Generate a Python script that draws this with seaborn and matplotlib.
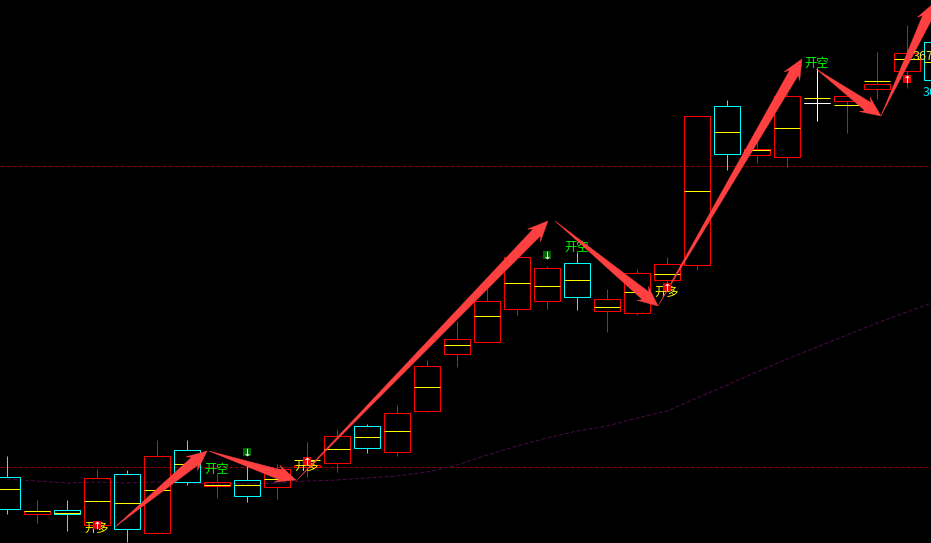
import numpy as np
import pandas as pd
import matplotlib
matplotlib.use("Agg")
import matplotlib.pyplot as plt
from matplotlib.patches import Polygon
from matplotlib.transforms import IdentityTransform
import seaborn as sns

# candle values, one per bar (price axis runs top to bottom like the screen)
highs = [456, 500, 500, 469, 470, 440, 440, 474, 466, 464, 442, 429, 424, 405, 360, 321,
         287, 257, 266, 252, 289, 269, 257, 116, 100, 140, 94, 68, 96, 52, 25, 10]
lows = [514, 523, 531, 527, 542, 533, 485, 498, 502, 499, 477, 472, 453, 456, 412, 367,
        342, 315, 309, 310, 332, 315, 287, 270, 170, 163, 167, 121, 133, 99, 88, 90]
tops = [477, 511, 510, 478, 474, 456, 450, 482, 480, 469, 465, 436, 426, 413, 366, 339,
        301, 257, 268, 263, 299, 273, 264, 116, 106, 149, 96, 98, 96, 84, 53, 42]
bottoms = [509, 514, 514, 525, 529, 533, 482, 486, 496, 487, 467, 463, 448, 452, 411, 354,
           342, 309, 301, 297, 311, 313, 280, 265, 154, 155, 157, 103, 101, 89, 71, 80]
mids = [489, 511, 513, 501, 503, 490, 464, 485, 485, 479, 460, 449, 437, 431, 387, 345,
        316, 283, 286, 280, 307, 292, 274, 191, 132, 150, 128, 98, 105, 81, 59, 62]
kinds = ["c", "r", "c", "r", "c", "r", "c", "r", "c", "r", "r", "r", "c", "r", "r", "r",
         "r", "r", "r", "c", "r", "r", "r", "r", "c", "r", "r", "w", "r", "r", "r", "c"]
ma_line = [479, 481, 483, 482, 483, 482, 483, 484, 484, 483, 481, 480, 478, 476, 472, 465,
           455, 446, 438, 431, 426, 418, 411, 398, 385, 372, 359, 347, 335, 323, 312, 301]

# dashed levels
levels = [166, 467]

# signal arrows: bar position and price of tail and tip
arrow_x0 = [3.6, 6.73, 9.63, 18.27, 21.7, 26.97, 29.13]
arrow_y0 = [527, 451, 481, 221, 306, 69, 116]
arrow_x1 = [6.67, 9.63, 18.03, 21.7, 26.5, 29.13, 30.9]
arrow_y1 = [451, 480, 221, 306, 59, 116, 3]

# text labels
long_x = [3.0, 10.0, 22.0]
long_y = [528, 466, 292]
short_x = [7.0, 19.0, 27.0]
short_y = [469, 247, 63]
buy_x = [3, 10, 22, 30]
buy_y = [525, 461, 287, 79]
sell_x = [8, 18, 26]
sell_y = [452, 255, 85]

COLORS = {"r": "#ff0000", "c": "#00ffff", "w": "#ffffff"}
W, H = 931, 543
LW = 0.72


def fix_axes(ax):
    # whole numbers land on pixel rows once matplotlib snaps the lines
    ax.set_xlim(-7 / 30, (W - 7) / 30)
    ax.set_ylim(H, 0)
    ax.set_axis_off()


sns.set_style("dark")
plt.rcParams["font.family"] = ["Noto Sans CJK SC", "DejaVu Sans"]

fig = plt.figure(figsize=(W / 100, H / 100), dpi=100, facecolor="black")
ax = fig.add_axes([0, 0, 1, 1], facecolor="black")
fix_axes(ax)

bars = pd.DataFrame({"pos": np.arange(len(highs)), "ma": ma_line})

for y in levels:
    ax.axhline(y, color="#8c0000", lw=LW, dashes=(4, 2), zorder=1)

sns.lineplot(data=bars, x="pos", y="ma", color="#4a0a4a", lw=LW, ax=ax,
             linestyle=(0, (4, 2)), zorder=1)
fix_axes(ax)

half = 13 / 30
for i, k in enumerate(kinds):
    c = COLORS[k]
    ax.plot([i, i], [highs[i], tops[i]], color=c, lw=LW, snap=True, solid_capstyle="butt", zorder=2)
    ax.plot([i, i], [bottoms[i], lows[i]], color=c, lw=LW, snap=True, solid_capstyle="butt", zorder=2)
    if k == "w":
        ax.plot([i, i], [tops[i], bottoms[i]], color=c, lw=LW, snap=True, zorder=2)
        ax.plot([i - half, i + half], [bottoms[i], bottoms[i]], color=c, lw=LW, snap=True, zorder=3)
    else:
        ax.bar(i, bottoms[i] - tops[i], bottom=tops[i], width=2 * half, facecolor="none",
               edgecolor=c, lw=LW, snap=True, zorder=2)
    ax.plot([i - half, i + half], [mids[i], mids[i]], color="#ffff00", lw=LW, snap=True,
            solid_capstyle="butt", zorder=3)

for x, y in zip(long_x, long_y):
    ax.text(x, y, "开多", color="#ffff00", fontsize=8.8, ha="center", va="center", zorder=4)
for x, y in zip(short_x, short_y):
    ax.text(x, y, "开空", color="#00ff00", fontsize=8.8, ha="center", va="center", zorder=4)
ax.text(30.2, 56, "367", color="#e6e640", fontsize=9, ha="left", va="center", zorder=8)
ax.text(30.53, 92, "367", color="#00e5ff", fontsize=9, ha="left", va="center", zorder=8)


def arrow_shape(p0, p1, shaft=10.0, head_w=18.0, head_l=20.0):
    # tapered arrow, worked out in screen pixels
    d = p1 - p0
    length = np.hypot(*d)
    u = d / length
    n = np.array([-u[1], u[0]])
    neck = p1 - u * head_l * 0.8
    back = p1 - u * head_l
    return [p0, neck + n * shaft / 2, back + n * head_w / 2, p1,
            back - n * head_w / 2, neck - n * shaft / 2]


for x0, y0, x1, y1 in zip(arrow_x0, arrow_y0, arrow_x1, arrow_y1):
    a = ax.transData.transform((x0, y0))
    b = ax.transData.transform((x1, y1))
    ax.add_patch(Polygon(arrow_shape(a, b), closed=True, transform=IdentityTransform(),
                         facecolor="#ff4040", edgecolor="#ff4040", lw=0.3, zorder=5))

sns.scatterplot(x=buy_x, y=buy_y, marker="s", s=26, color="#e60000", linewidth=0, ax=ax, zorder=6)
sns.scatterplot(x=buy_x, y=buy_y, marker=r"$\uparrow$", s=30, color="white", linewidth=0, ax=ax, zorder=7)
sns.scatterplot(x=sell_x, y=sell_y, marker="s", s=26, color="#006400", linewidth=0, ax=ax, zorder=4)
sns.scatterplot(x=sell_x, y=sell_y, marker=r"$\downarrow$", s=30, color="white", linewidth=0, ax=ax, zorder=4)

fix_axes(ax)
fig.savefig("out.png", dpi=100, facecolor="black")
